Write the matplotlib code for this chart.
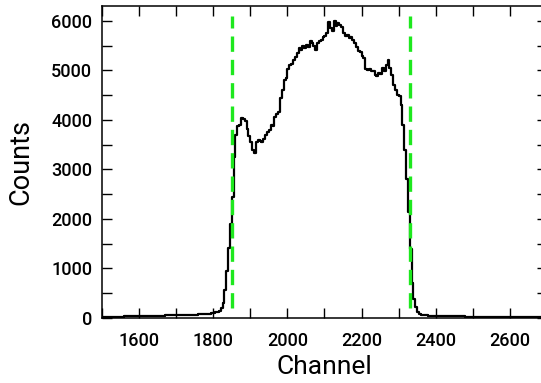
import matplotlib
matplotlib.use("Agg")
import matplotlib.pyplot as plt
from matplotlib.ticker import MultipleLocator

# Histogram: left edge of each channel bin and its counts
channels = [1500, 1510, 1520, 1530, 1540, 1550, 1560, 1570, 1580, 1590,
            1600, 1610, 1620, 1630, 1640, 1650, 1660, 1670, 1680, 1690,
            1700, 1710, 1720, 1730, 1740, 1750, 1760, 1770, 1780, 1790,
            1795, 1800, 1805, 1810, 1815, 1820, 1825, 1830, 1835, 1840,
            1845, 1850, 1855, 1860, 1865, 1870, 1875, 1880, 1885, 1890,
            1895, 1900, 1905, 1910, 1915, 1920, 1925, 1930, 1935, 1940,
            1945, 1950, 1955, 1960, 1965, 1970, 1975, 1980, 1985, 1990,
            1995, 2000, 2005, 2010, 2015, 2020, 2025, 2030, 2035, 2040,
            2045, 2050, 2055, 2060, 2065, 2070, 2075, 2080, 2085, 2090,
            2095, 2100, 2105, 2110, 2115, 2120, 2125, 2130, 2135, 2140,
            2145, 2150, 2155, 2160, 2165, 2170, 2175, 2180, 2185, 2190,
            2195, 2200, 2205, 2210, 2215, 2220, 2225, 2230, 2235, 2240,
            2245, 2250, 2255, 2260, 2265, 2270, 2275, 2280, 2285, 2290,
            2295, 2300, 2305, 2310, 2315, 2320, 2325, 2330, 2335, 2340,
            2345, 2350, 2355, 2360, 2370, 2380, 2390, 2400, 2410, 2420,
            2430, 2440, 2450, 2460, 2470, 2480, 2490, 2500, 2510, 2520,
            2530, 2540, 2550, 2560, 2570, 2580, 2590, 2600, 2610, 2620,
            2630, 2640, 2650, 2660, 2670, 2680, 2690, 2700]
counts = [20, 22, 25, 25, 28, 30, 32, 35, 38, 40,
          40, 42, 40, 45, 48, 50, 50, 52, 55, 55,
          58, 60, 62, 65, 68, 70, 72, 75, 80, 90,
          100, 110, 120, 130, 150, 200, 300, 560, 950, 1420,
          1900, 2450, 3250, 3700, 3880, 3900, 4040, 4020, 3980, 3820,
          3680, 3550, 3400, 3330, 3560, 3600, 3580, 3560, 3620, 3700,
          3760, 3800, 3900, 3880, 4050, 4120, 4150, 4450, 4600, 4800,
          4850, 5020, 5100, 5120, 5200, 5280, 5350, 5450, 5420, 5500,
          5450, 5520, 5480, 5600, 5560, 5500, 5420, 5550, 5600, 5620,
          5680, 5700, 5750, 5980, 5850, 5800, 6000, 5900, 5950, 5920,
          5880, 5750, 5700, 5720, 5650, 5680, 5620, 5550, 5480, 5400,
          5380, 5300, 5250, 5020, 5000, 5020, 4980, 4990, 4900, 4880,
          4950, 4920, 5050, 4980, 5100, 5200, 5050, 4900, 4700, 4600,
          4500, 4480, 4300, 3900, 3400, 2800, 2150, 1400, 700, 380,
          220, 120, 80, 60, 55, 50, 48, 45, 42, 40,
          38, 36, 35, 33, 32, 30, 30, 28, 27, 26,
          25, 24, 23, 22, 22, 21, 20, 20, 19, 18,
          18, 17, 17, 16, 15, 15, 14, 14]

cut_channels = [1850, 2330]
cut_range = [200, 6100]

x_major = [1600, 1800, 2000, 2200, 2400, 2600]
y_major = [0, 1000, 2000, 3000, 4000, 5000, 6000]

plt.rcParams['font.family'] = ['Roboto', 'DejaVu Sans']

fig = plt.figure(figsize=(5.41, 3.83), dpi=100)
ax = fig.add_axes([0.1885, 0.1697, 0.8226, 0.8146])

ax.step(channels, counts, where='post', color='black', lw=1.6)
ax.vlines(cut_channels, cut_range[0], cut_range[1], colors='#1ee81e',
          lw=2.4, linestyles=(0, (4.6, 2.4)))

ax.set_xlim(1500, 2700)
ax.set_ylim(0, 6300)
ax.set_xticks(x_major)
ax.set_yticks(y_major)
ax.xaxis.set_minor_locator(MultipleLocator(100))
ax.yaxis.set_minor_locator(MultipleLocator(500))
ax.tick_params(which='both', direction='in', top=True, right=True,
               length=7, width=1.0, labelsize=13)
ax.tick_params(axis='x', pad=10)
ax.tick_params(axis='y', pad=7)
for lab in ax.get_xticklabels() + ax.get_yticklabels():
    lab.set_fontweight('medium')
for s in ax.spines.values():
    s.set_linewidth(1.1)

ax.set_xlabel('Channel', fontsize=19, labelpad=4)
ax.set_ylabel('Counts', fontsize=19.5, labelpad=12)

fig.savefig('out.png', dpi=100)
